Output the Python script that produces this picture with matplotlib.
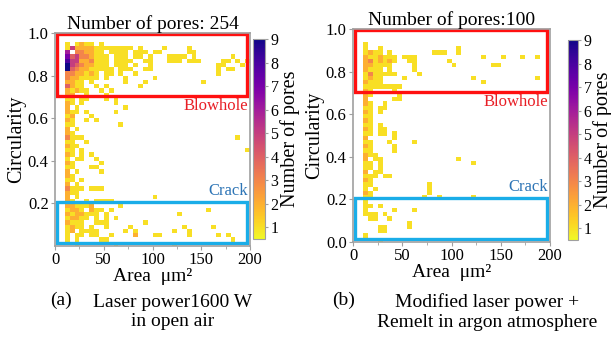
import numpy as np
import matplotlib
matplotlib.use("Agg")
import matplotlib.pyplot as plt
from matplotlib.patches import Rectangle
from matplotlib.colors import Normalize

plt.rcParams['font.family'] = ['Liberation Serif', 'DejaVu Serif']

# ---- data: pore counts per cell, rows from circularity 0.94-0.96 (top) down to 0.00-0.02
# each character = one 5 um area bin (0..200 um^2), '.' = no pore
area_edges = np.arange(0, 205, 5)
circ_edges = np.linspace(0, 0.96, 49)

#          "0123456789012345678901234567890123456789"
rows_a = ["..1.1211.1..............................",
          "..15222211111111.1....1....1............",
          "..6.332211.1111.111.11.....11...........",
          "..745332111.111.11.1...1111.1.......1...",
          "..855223111.1111..11...111.111....11.1.1",
          "..954322111.111.1..1.............11...1.",
          "..9432211111.111..11.............1.11...",
          "..3322121.11.1..1................1......",
          "..3221111.1...1.....1...................",
          "..2211.1......1...1...........1.........",
          "..4211..1.1......1......................",
          "..21211..1.1............................",
          "..22..1...1.............................",
          "..11.11...1.1...........................",
          "..21.1......1...........................",
          "..2.1.........1.........................",
          "..211.1.....1...........................",
          "..12...1................................",
          "..21..1.1...............................",
          "..11.........1..........................",
          "..2.1...................................",
          "..21....................................",
          "..3111...............................1..",
          "..11..1.................................",
          "..211...................................",
          "..11.1.................................1",
          "..21.1.1................................",
          "..1.11..1...............................",
          "..21.....1..............................",
          "..11...11...............................",
          "..2.1....1..............................",
          "..21....................................",
          "..11.1..................................",
          "..2.1...................................",
          "..3111.111..............................",
          "..211...................................",
          "..2.1...............1...................",
          "..21..1.1111............................",
          "..221112.....1..........................",
          "..1221.211.1...................1........",
          "..2122111.1..............1..............",
          "..12211.1.1.1...........................",
          "..2111..111.......1.....................",
          "..1211.1..1....1..........1.....1.......",
          "..12.1111.....1.1.......1..1............",
          "..1.11.11..1....2...11.....1.....1.1....",
          "..1.1....11.........................1...",
          "....1.......1...........1..............."]

rows_b = ["........................................",
          "..1.....................................",
          "..1..1...............1..................",
          "..1211.1........111..1..................",
          "..2112111.111.............1...1...1..1..",
          "..2312121..11......1....................",
          "..221111....1.......1.......11..........",
          "..2111.1....1...........................",
          "..1311111....1..........................",
          "..1211....1.............1............1..",
          "..2111....................1.............",
          "..11111111..............................",
          "..21....1...............................",
          "..21.....1..............................",
          "..2.....11..............................",
          "..21..1.................................",
          "..11.11.................................",
          "..21.1..................................",
          "..11....................................",
          "..21....................................",
          "..11.1..................................",
          "..21.11.................................",
          "..11.11.1...............................",
          "..2.....1...............................",
          "..11...1....1...........................",
          "..21....1...............................",
          "..11....1...............................",
          "..211...................................",
          "..2.11...............1..................",
          "..11.1..................1...............",
          "..11.1..................................",
          "..2.11..................................",
          "..111.11................................",
          "..21....................................",
          "..11...........1........................",
          "..1.1..........1........................",
          "..21...........1........................",
          "..11..........1..1......1...............",
          "..1.....................................",
          "..11.1..................................",
          "..1.....1...1...........................",
          "..111.1.................................",
          "...11..1................................",
          "...........1............................",
          ".....11....1............................",
          ".....11.................................",
          "..1.....................................",
          ".....1.................................."]

titles = ["Number of pores: 254", "Number of pores:100"]
captions = [("(a)", "Laser power1600 W\nin open air"),
            ("(b)", "Modified laser power +\nRemelt in argon atmosphere")]
cbar_ticks = [1, 2, 3, 4, 5, 6, 7, 8, 9]


def to_grid(rows):
    g = np.array([[0 if c == '.' else int(c) for c in r.ljust(40, '.')[:40]] for r in rows], float)
    g = g[::-1]  # bottom row first
    return np.ma.masked_equal(g, 0)


fig = plt.figure(figsize=(6.11, 3.38), dpi=100)
W, H = 611, 338


def px_axes(x0, y0, x1, y1):
    return fig.add_axes([x0 / W, 1 - y1 / H, (x1 - x0) / W, (y1 - y0) / H])


ax_a = px_axes(55, 33, 250, 246)
cax_a = px_axes(253, 39, 265, 239)
ax_b = px_axes(353, 29, 550, 242)
cax_b = px_axes(568, 40, 578, 240)

norm = Normalize(vmin=0.5, vmax=9)
gray = '#a0a0a0'

for ax, cax, rows, title, cap, yt in [
        (ax_a, cax_a, rows_a, titles[0], captions[0], [0.2, 0.4, 0.6, 0.8, 1.0]),
        (ax_b, cax_b, rows_b, titles[1], captions[1], [0.0, 0.2, 0.4, 0.6, 0.8, 1.0])]:
    mesh = ax.pcolormesh(area_edges, circ_edges, to_grid(rows), cmap='plasma_r', norm=norm)
    ax.set_xlim(0, 200)
    ax.set_ylim(0, 1.0)
    ax.set_xticks([0, 50, 100, 150, 200])
    ax.set_xticks(np.arange(0, 201, 25), minor=True)
    ax.set_yticks(yt)
    ax.set_yticklabels([f"{v:.1f}" for v in yt])
    ax.tick_params(labelsize=12, length=3, color=gray, pad=1.5)
    ax.tick_params(which='minor', length=2, color=gray)
    for s in ax.spines.values():
        s.set_color(gray)
        s.set_linewidth(1.2)
    ax.set_xlabel("Area  μm²", fontsize=14, labelpad=0)
    ax.set_ylabel("Circularity", fontsize=14.5, labelpad=1)
    ax.set_title(title, fontsize=14, pad=2)

    # blowhole / crack boxes
    ax.add_patch(Rectangle((2, 0.705), 195, 0.29, fill=False, ec='#ff1010', lw=2.4, clip_on=False))
    ax.add_patch(Rectangle((2, 0.012), 195, 0.195, fill=False, ec='#1aade8', lw=2.4, clip_on=False))
    ax.text(198, 0.655, "Blowhole", color='#e81e25', fontsize=12, ha='right', va='center')
    ax.text(198, 0.258, "Crack", color='#2e75b6', fontsize=12, ha='right', va='center')

    cb = fig.colorbar(mesh, cax=cax, ticks=cbar_ticks)
    cb.outline.set_edgecolor(gray)
    cb.ax.tick_params(labelsize=11.5, length=2, color=gray, pad=2)
    cb.set_label("Number of pores", fontsize=14.5, labelpad=1)

# captions below each panel
fig.text(50 / W, 1 - 300 / H, captions[0][0], fontsize=14, va='center', ha='left')
fig.text(173 / W, 1 - 312 / H, captions[0][1], fontsize=14, va='center', ha='center',
         multialignment='center', linespacing=1.2)
fig.text(332 / W, 1 - 300 / H, captions[1][0], fontsize=14, va='center', ha='left')
fig.text(487 / W, 1 - 312 / H, captions[1][1], fontsize=14, va='center', ha='center',
         multialignment='center', linespacing=1.2)

fig.savefig("out.png", dpi=100)
